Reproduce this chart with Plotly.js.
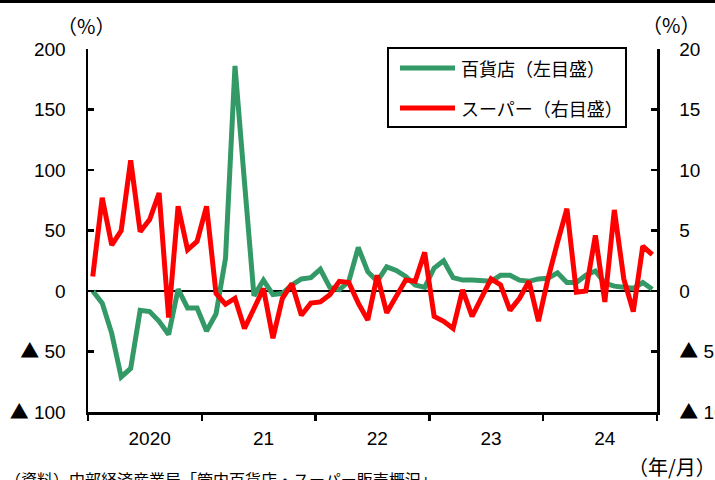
<!DOCTYPE html>
<html>
<head>
<meta charset="utf-8">
<script src="https://cdn.plot.ly/plotly-3.0.1.min.js"></script>
<style>
  html, body { margin: 0; padding: 0; background: #fff; }
  #chart { width: 715px; height: 480px; }
</style>
</head>
<body>
<div id="chart"></div>
<script>
// Monthly categories, Jan 2020 - Dec 2024
const years = [2020, 2021, 2022, 2023, 2024];
const months = [];
years.forEach(y => { for (let m = 1; m <= 12; m++) months.push(y + '/' + m); });

// Year-on-year change (%), department stores — left scale
const deptStore = [
  0, -10, -35, -71, -64, -16, -17, -25, -36, 1.5, -14, -14,
  -33, -19, 27, 186, 90, -4, 9, -3, -2, 5, 10, 11,
  18, 3, 1, 8, 36, 16, 8, 20, 17, 12, 5, 3,
  19, 25, 11, 9, 9, 9, 8, 13, 13, 9, 8, 10,
  10.5, 15, 7, 7, 13, 16.5, 6.5, 4, 3.3, 2.2, 7, 1.4
];

// Year-on-year change (%), supermarkets — right scale
const supermarket = [
  1.2, 7.7, 3.8, 5.0, 10.8, 4.9, 5.9, 8.1, -2.2, 7.0, 3.4, 4.1,
  7.0, -0.2, -1.1, -0.6, -3.1, -1.4, 0.2, -3.9, -0.6, 0.6, -2.0, -1.0,
  -0.9, -0.3, 0.8, 0.7, -1.0, -2.4, 1.3, -1.8, -0.5, 0.9, 0.8, 3.2,
  -2.1, -2.5, -3.1, 0.1, -2.1, -0.5, 1.0, 0.5, -1.6, -0.6, 0.8, -2.5,
  1.0, 4.0, 6.8, -0.1, 0.0, 4.6, -0.9, 6.7, 1.0, -1.7, 3.7, 3.0
];

const seriesNames = ['百貨店（左目盛）', 'スーパー（右目盛）'];
const yearLabels = ['2020', '21', '22', '23', '24'];

// negative values are written with a leading triangle
const TRI = '<span style="font-family:Noto Sans CJK JP">▲</span> ';
const leftTicks = [-100, -50, 0, 50, 100, 150, 200];
const leftTickText = [TRI + '100', TRI + '50', '0', '50', '100', '150', '200'];
const rightTicks = [-10, -5, 0, 5, 10, 15, 20];
const rightTickText = [TRI + '10', TRI + '5', '0', '5', '10', '15', '20'];

const sourceNote = '（資料）中部経済産業局「管内百貨店・スーパー販売概況」';

const GREEN = '#339966';
const RED = '#ff0000';
const FONT = 'Liberation Sans, Arial, Noto Sans CJK JP, sans-serif';
const JFONT = 'Noto Sans CJK JP, Liberation Sans, sans-serif';

const xIdx = months.map((_, i) => i);
const yearCenters = years.map((_, k) => 6 + 12 * k);
const yearBounds = [-0.5].concat(years.map((_, k) => 11.5 + 12 * k));

const traces = [
  {
    x: xIdx, y: deptStore, name: seriesNames[0], type: 'scatter', mode: 'lines',
    line: { color: GREEN, width: 5 }, yaxis: 'y', hoverinfo: 'skip'
  },
  {
    x: xIdx, y: supermarket, name: seriesNames[1], type: 'scatter', mode: 'lines',
    line: { color: RED, width: 5 }, yaxis: 'y2', hoverinfo: 'skip'
  }
];

// pixel helpers for the paper frame (plot area 88..657 x 49..412)
const L = 88, R = 58, T = 49, B = 68, W = 715, H = 480;
const PW = W - L - R, PH = H - T - B;
const px = x => (x - L) / PW;
const py = y => (H - B - y) / PH;

const legendBox = { x0: 388, x1: 626, y0: 48, y1: 127 };
const legendRows = [68, 108];

const shapes = [
  // rule along the top edge of the page
  { type: 'line', xref: 'paper', yref: 'paper', x0: px(0), x1: px(715), y0: py(1.5), y1: py(1.5),
    line: { color: '#000', width: 3 } },
  // legend frame
  { type: 'rect', xref: 'paper', yref: 'paper',
    x0: px(legendBox.x0), x1: px(legendBox.x1), y0: py(legendBox.y1), y1: py(legendBox.y0),
    line: { color: '#000', width: 2 }, fillcolor: '#fff' }
];
[GREEN, RED].forEach((c, k) => {
  shapes.push({ type: 'line', xref: 'paper', yref: 'paper',
    x0: px(400), x1: px(455), y0: py(legendRows[k]), y1: py(legendRows[k]),
    line: { color: c, width: 5 } });
});

const annotations = [
  { text: '（%）', xref: 'paper', yref: 'paper', x: px(86), y: py(26), showarrow: false,
    xanchor: 'center', yanchor: 'middle', font: { family: JFONT, size: 20, color: '#000' } },
  { text: '（%）', xref: 'paper', yref: 'paper', x: px(671), y: py(24), showarrow: false,
    xanchor: 'center', yanchor: 'middle', font: { family: JFONT, size: 20, color: '#000' } },
  { text: '（年/月）', xref: 'paper', yref: 'paper', x: px(718), y: py(466), showarrow: false,
    xanchor: 'right', yanchor: 'middle', font: { family: JFONT, size: 20, color: '#000' } },
  { text: sourceNote, xref: 'paper', yref: 'paper', x: px(3), y: py(479), showarrow: false,
    xanchor: 'left', yanchor: 'middle', font: { family: JFONT, size: 16, color: '#000' } }
];
seriesNames.forEach((n, k) => {
  annotations.push({ text: n, xref: 'paper', yref: 'paper', x: px(459), y: py(legendRows[k]),
    showarrow: false, xanchor: 'left', yanchor: 'middle',
    font: { family: JFONT, size: 18, color: '#000' } });
});

const layout = {
  width: W, height: H,
  margin: { l: L, r: R, t: T, b: B, pad: 0 },
  paper_bgcolor: '#fff', plot_bgcolor: '#fff',
  showlegend: false,
  xaxis: {
    range: [-0.5, 59.5], showgrid: false, zeroline: false,
    showline: true, linecolor: '#000', linewidth: 2.5,
    tickmode: 'array', tickvals: yearCenters, ticktext: yearLabels,
    ticks: '', ticklabelstandoff: 8,
    tickfont: { family: FONT, size: 19, color: '#000' },
    minor: { tickmode: 'array', tickvals: yearBounds, ticks: 'outside', ticklen: 6,
             tickwidth: 2.5, tickcolor: '#000', showgrid: false },
    fixedrange: true
  },
  yaxis: {
    range: [-100, 200], showgrid: false,
    zeroline: true, zerolinecolor: '#000', zerolinewidth: 2.5,
    showline: true, linecolor: '#000', linewidth: 2.5,
    tickmode: 'array', tickvals: leftTicks, ticktext: leftTickText,
    ticks: 'inside', ticklen: 6, tickwidth: 2.5, tickcolor: '#000',
    ticklabelstandoff: 16,
    tickfont: { family: FONT, size: 19, color: '#000' },
    fixedrange: true
  },
  yaxis2: {
    range: [-10, 20], overlaying: 'y', side: 'right', showgrid: false, zeroline: false,
    showline: true, linecolor: '#000', linewidth: 2.5,
    tickmode: 'array', tickvals: rightTicks, ticktext: rightTickText,
    ticks: 'inside', ticklen: 6, tickwidth: 2.5, tickcolor: '#000',
    ticklabelstandoff: 16,
    tickfont: { family: FONT, size: 19, color: '#000' },
    fixedrange: true
  },
  shapes: shapes,
  annotations: annotations
};

Plotly.newPlot('chart', traces, layout, { displayModeBar: false, staticPlot: true });
</script>
</body>
</html>
